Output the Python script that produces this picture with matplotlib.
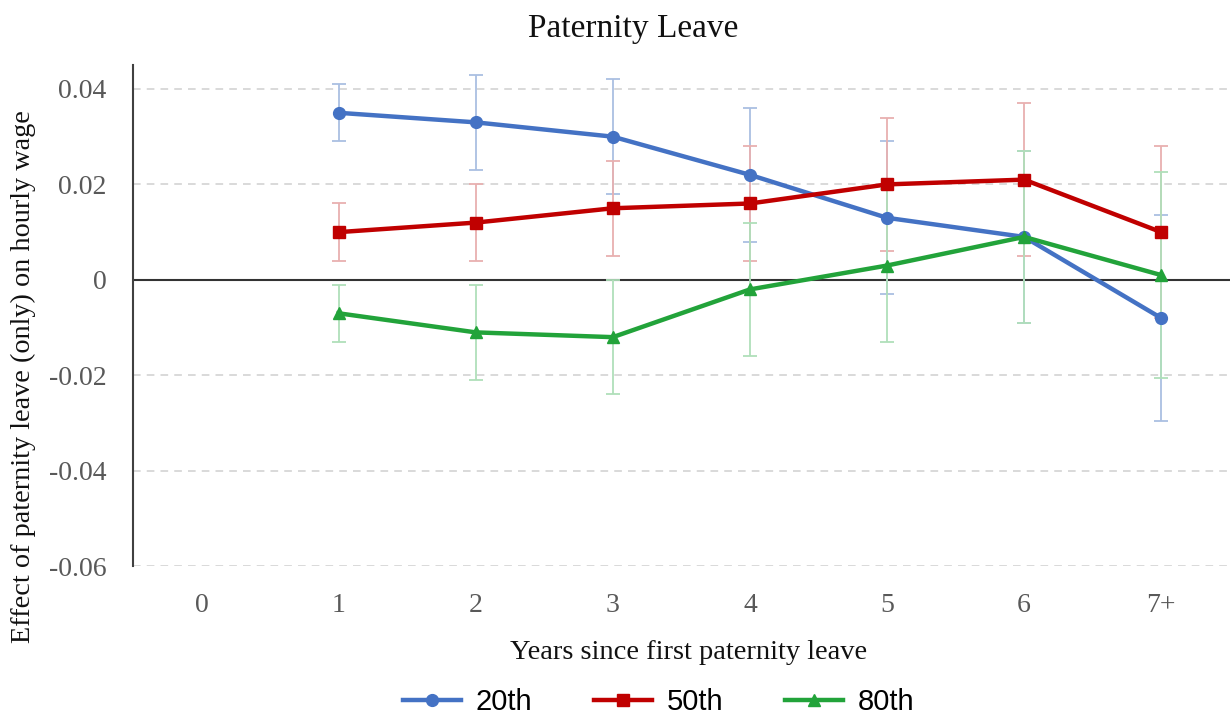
import matplotlib
matplotlib.use("Agg")
import matplotlib.pyplot as plt
from matplotlib.font_manager import FontProperties

# data
years = ["0", "1", "2", "3", "4", "5", "6", "7+"]
pos = [1, 2, 3, 4, 5, 6, 7]

p20 = [0.035, 0.033, 0.030, 0.022, 0.013, 0.009, -0.008]
p20_lo = [0.029, 0.023, 0.018, 0.008, -0.003, -0.009, -0.0295]
p20_hi = [0.041, 0.043, 0.042, 0.036, 0.029, 0.027, 0.0135]

p50 = [0.010, 0.012, 0.015, 0.016, 0.020, 0.021, 0.010]
p50_lo = [0.004, 0.004, 0.005, 0.004, 0.006, 0.005, -0.008]
p50_hi = [0.016, 0.020, 0.025, 0.028, 0.034, 0.037, 0.028]

p80 = [-0.007, -0.011, -0.012, -0.002, 0.003, 0.009, 0.001]
p80_lo = [-0.013, -0.021, -0.024, -0.016, -0.013, -0.009, -0.0205]
p80_hi = [-0.001, -0.001, 0.000, 0.012, 0.019, 0.027, 0.0225]

series = [
    ("20th", p20, p20_lo, p20_hi, "#4472c4", "#aabfe2", "o"),
    ("50th", p50, p50_lo, p50_hi, "#c00000", "#e8b0b0", "s"),
    ("80th", p80, p80_lo, p80_hi, "#22a33a", "#b0dfba", "^"),
]

plt.rcParams["font.family"] = "Liberation Serif"

fig = plt.figure(figsize=(12.31, 7.15), dpi=100)
ax = fig.add_axes([0.108, 0.208, 0.891, 0.701])

for y in [0.04, 0.02, -0.02, -0.04, -0.06]:
    ax.axhline(y, color="#d0d0d0", linestyle=(0, (5, 4)), linewidth=1.1, zorder=0)
ax.axhline(0, color="#333333", linewidth=1.5, zorder=1)

handles = []
for name, vals, lo, hi, col, ecol, mk in series:
    err = [[v - l for v, l in zip(vals, lo)], [h - v for v, h in zip(vals, hi)]]
    ax.errorbar(pos, vals, yerr=err, fmt="none", ecolor=ecol, elinewidth=1.3,
                capsize=5, capthick=1.3, zorder=2)
    h, = ax.plot(pos, vals, color=col, linewidth=3.2, marker=mk, markersize=8.5,
                 zorder=3, label=name)
    handles.append(h)

ax.set_xlim(-0.5, 7.5)
ax.set_ylim(-0.06, 0.045)
ax.set_xticks(range(len(years)))
ax.set_xticklabels(years)
ax.set_yticks([0.04, 0.02, 0, -0.02, -0.04, -0.06])
ax.set_yticklabels(["0.04", "0.02", "0", "-0.02", "-0.04", "-0.06"])
ax.tick_params(axis="both", length=0, labelsize=20, colors="#595959")
ax.tick_params(axis="y", pad=19)
ax.tick_params(axis="x", pad=19)

for s in ["top", "right", "bottom"]:
    ax.spines[s].set_visible(False)
ax.spines["left"].set_color("#404040")
ax.spines["left"].set_linewidth(1.5)

fig.text(0.514, 0.96, "Paternity Leave", fontsize=24, color="#111111",
         ha="center", va="center")
ax.set_xlabel("Years since first paternity leave", fontsize=20.5, color="#111111",
              va="center")
ax.xaxis.set_label_coords(0.507, -0.172)
ax.set_ylabel("Effect of paternity leave (only) on hourly wage", fontsize=20.3,
              color="#111111", va="center")
ax.yaxis.set_label_coords(-0.1, 0.379)

fig.legend(handles=handles, loc="center", bbox_to_anchor=(0.535, 0.018), ncol=3,
           frameon=False, prop=FontProperties(family="Liberation Sans", size=21),
           handlelength=2.0, columnspacing=2.1, handletextpad=0.5)

fig.savefig("out.png", dpi=100)
